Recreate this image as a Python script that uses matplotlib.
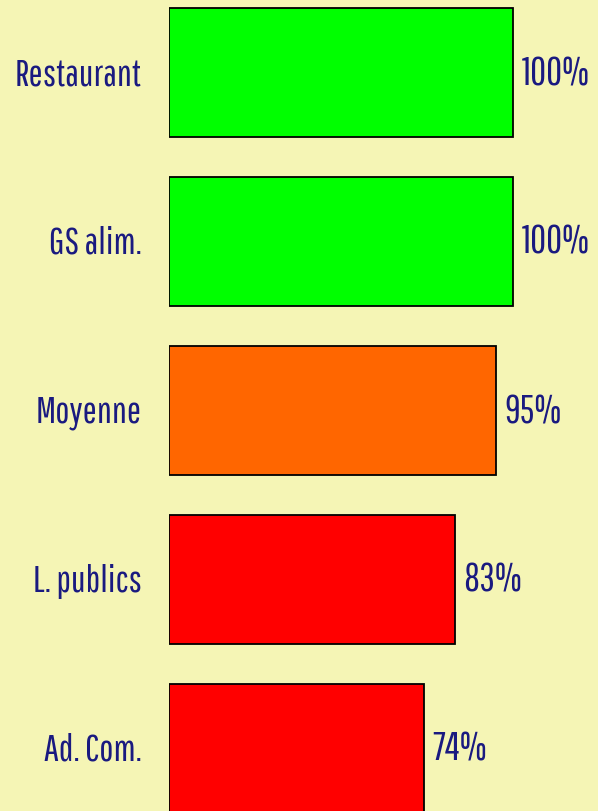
import matplotlib.pyplot as plt

categories = ['Restaurant', 'GS alim.', 'Moyenne', 'L. publics', 'Ad. Com.']
values = [100, 100, 95, 83, 74]
colors = ['#00ff00', '#00ff00', '#ff6600', '#ff0000', '#ff0000']

bg = '#f5f5b5'
txt = '#1a1a80'
font = ['Pathway Gothic One', 'DejaVu Sans']

fig = plt.figure(figsize=(5.98, 8.11), dpi=100, facecolor=bg)
ax = fig.add_axes([169 / 598, 0, 1 - 169 / 598, 1])
ax.set_facecolor(bg)

ypos = list(range(len(categories)))
ax.barh(ypos, values, height=0.763, color=colors, edgecolor='black', linewidth=1.3)

# baseline sits ~12px under the bar centre
off = 12.5 / 169
for y, v, c in zip(ypos, values, categories):
    ax.text(v + 2.5, y + off, f'{v}%', va='baseline', ha='left', fontsize=28, color=txt, family=font)
    ax.text(-8, y + off, c, va='baseline', ha='right', fontsize=27, color=txt, family=font)

ax.set_xlim(0, 100 * (598 - 169) / 344)
ax.set_ylim((811 - 72.5) / 169, -72.5 / 169)
ax.axis('off')

fig.savefig('out.png', dpi=100, facecolor=bg)
